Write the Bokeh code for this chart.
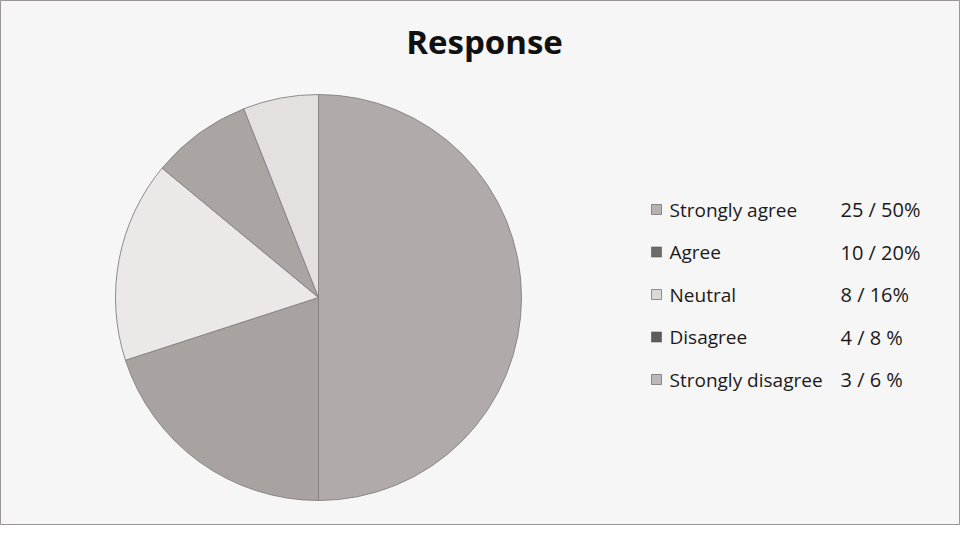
import math
from bokeh.plotting import figure
from bokeh.models import Range1d, ColumnDataSource
from bokeh.core.properties import value
from bokeh.embed import file_html
from bokeh.resources import INLINE

# ---- data ----
categories = ["Strongly agree", "Agree", "Neutral", "Disagree", "Strongly disagree"]
counts = [25, 10, 8, 4, 3]
percents = [50, 20, 16, 8, 6]
value_labels = ["25 / 50%", "10 /  20%", "8  /  16%", "4  /  8 %", "3 / 6 %"]
colors = ["#b0abaa", "#a8a2a1", "#ece8e8", "#aaa4a3", "#e4e0e0"]
swatch_colors = ["#b8b3b2", "#6f6a6a", "#dcd8d8", "#5f5b5b", "#bdb8b8"]
title_text = "Response"

W, H = 960, 525
p = figure(width=W, height=H, output_backend="svg", toolbar_location=None,
           x_range=Range1d(0, W), y_range=Range1d(0, H), min_border=0,
           background_fill_color="#f7f6f6", border_fill_color="#f7f6f6")
p.axis.visible = False
p.grid.visible = False
p.outline_line_color = "#9a9696"
p.outline_line_width = 1

# pie
total = sum(counts)
starts, ends = [], []
cum = 0
for c in counts:
    starts.append(math.pi / 2 - 2 * math.pi * cum / total)
    cum += c
    ends.append(math.pi / 2 - 2 * math.pi * cum / total)
src = ColumnDataSource(dict(start=starts, end=ends, color=colors))
p.wedge(x=318, y=228, radius=203, start_angle="start", end_angle="end",
        direction="clock", fill_color="color", line_color="#857f7f",
        line_width=0.9, source=src)

# title
p.text(x=[484], y=[484], text=[title_text], text_font=value("Open Sans"),
       text_font_size="33px", text_font_style="bold", text_align="center",
       text_baseline="middle", text_color="#111111")

# legend
row_y = [316 - 42.5 * i for i in range(len(categories))]
lsrc = ColumnDataSource(dict(y=row_y, cat=categories, val=value_labels,
                             sw=swatch_colors))
p.scatter(x=656, y="y", marker="square", size=10, fill_color="sw",
          line_color="#555050", line_width=0.6, source=lsrc)
p.text(x=669, y="y", text="cat", text_font=value("Open Sans"),
       text_font_size="19px", text_baseline="middle", text_color="#1a1a1a",
       source=lsrc)
p.text(x=840, y="y", text="val", text_font=value("Open Sans"),
       text_font_size="20px", text_baseline="middle", text_color="#1a1a1a",
       source=lsrc)

open("out.html", "w").write(file_html(p, INLINE))
